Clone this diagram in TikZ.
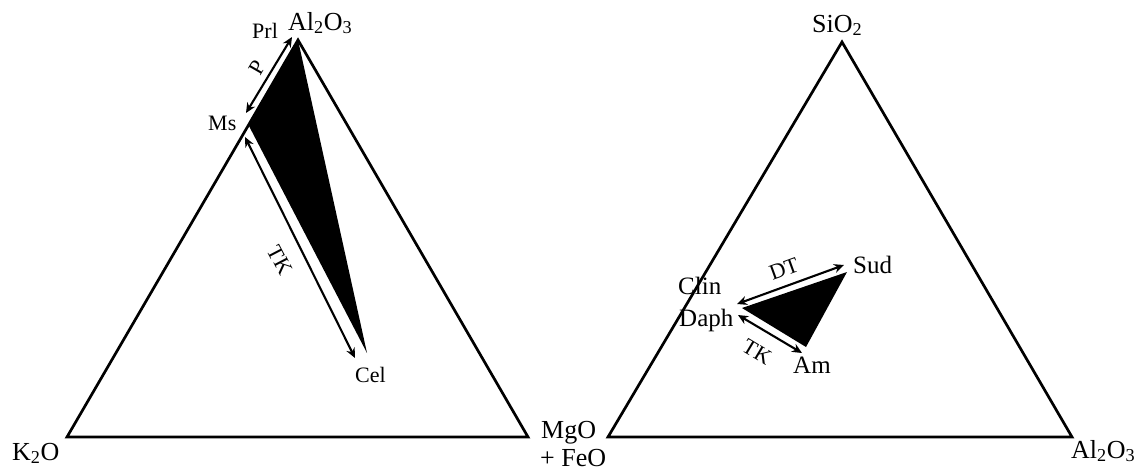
\documentclass[tikz,border=0pt]{standalone}
\usepackage{fontspec}
\setmainfont{Liberation Serif}
\usetikzlibrary{arrows.meta}
\begin{document}
\begin{tikzpicture}[x=1pt,y=-1pt,
  edge/.style={line width=2.7pt,line join=miter},
  dbl/.style={line width=2.1pt,{Stealth[length=10pt,width=9pt]}-{Stealth[length=10pt,width=9pt]}},
  oxide/.style={font=\fontsize{26}{28}\selectfont,anchor=base west,inner sep=0pt},
  mineral/.style={font=\fontsize{22}{24}\selectfont,anchor=base west,inner sep=0pt},
  mineralR/.style={font=\fontsize{25}{27}\selectfont,anchor=base west,inner sep=0pt},
  arrlabel/.style={font=\fontsize{22}{24}\selectfont,inner sep=0pt}]
\path[use as bounding box] (0,0) rectangle (1145,474);
% left triangle
\coordinate (LA) at (298,40);
\coordinate (LK) at (67,437);
\coordinate (LM) at (528,437);
\coordinate (Ms) at (249,126);
\coordinate (Cel) at (367,353);
\fill (LA) -- (Ms) -- (Cel) -- cycle;
\draw[edge] (LA) -- (LK) -- (LM) -- cycle;
\coordinate (P1) at (246,113);
\coordinate (P2) at (292,37);
\coordinate (T1) at (245,137);
\coordinate (T2) at (355,358);
\draw[dbl] (P1) -- (P2);
\draw[dbl] (T1) -- (T2);
\node[oxide] (lal) at (288,30) {Al\textsubscript{2}O\textsubscript{3}};
\node[mineral] (prl) at (252,38) {Prl};
\node[mineral] (ms) at (208,130) {Ms};
\node[mineral] (cel) at (355,382) {Cel};
\node[arrlabel,rotate=60] (p) at (257,68) {P};
\node[arrlabel,rotate=-62.5] (tkl) at (280,260) {TK};
\node[oxide] (k2o) at (12,460) {K\textsubscript{2}O};
\node[oxide] (mgo) at (541,438) {MgO};
\node[oxide] (feo) at (540,466) {+ FeO};
% right triangle
\coordinate (RS) at (842,42);
\coordinate (RL) at (608,437);
\coordinate (RR) at (1072,437);
\coordinate (Daph) at (742,308);
\coordinate (Sud) at (847,272);
\coordinate (Am) at (806,347);
\fill (Daph) -- (Sud) -- (Am) -- cycle;
\draw[edge] (RS) -- (RL) -- (RR) -- cycle;
\coordinate (D1) at (737,304);
\coordinate (D2) at (844,265);
\coordinate (K1) at (738,315);
\coordinate (K2) at (802,353);
\draw[dbl] (D1) -- (D2);
\draw[dbl] (K1) -- (K2);
\node[oxide] (sio) at (812,32) {SiO\textsubscript{2}};
\node[oxide] (ral) at (1071,458) {Al\textsubscript{2}O\textsubscript{3}};
\node[mineralR] (clin) at (678,294) {Clin};
\node[mineralR] (daph) at (679,326) {Daph};
\node[mineralR] (sud) at (853,273) {Sud};
\node[mineralR] (am) at (793,373) {Am};
\node[arrlabel,rotate=20] (dt) at (784,269) {DT};
\node[arrlabel,rotate=-31] (tkr) at (757,352) {TK};
\end{tikzpicture}
\end{document}
